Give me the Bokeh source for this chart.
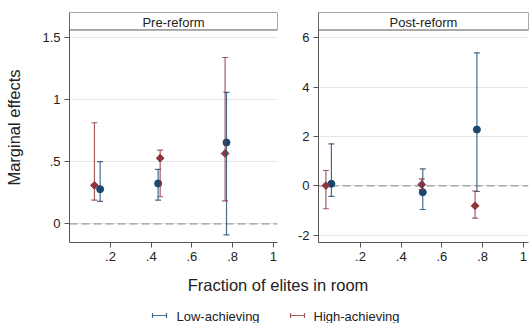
from bokeh.plotting import figure
from bokeh.layouts import column, row
from bokeh.models import (ColumnDataSource, Whisker, TeeHead, Range1d, FixedTicker,
                          CustomJSTickFormatter, Span, BoxAnnotation, Label)
from bokeh.core.properties import value
from bokeh.embed import file_html
from bokeh.resources import INLINE

FONT = "Liberation Sans"
BLUE = "#1a476f"
RED = "#90353b"
TXT = "#222222"
AX = "#555555"

# ---- data ----
panel_titles = ["Pre-reform", "Post-reform"]
x_title = "Fraction of elites in room"
y_title = "Marginal effects"
legend_labels = ["Low-achieving", "High-achieving"]

x_ticks = [0.2, 0.4, 0.6, 0.8, 1.0]
pre_y_ticks = [0, 0.5, 1, 1.5]
post_y_ticks = [-2, 0, 2, 4, 6]

pre_x_low = [0.149, 0.434, 0.770]
pre_low = [0.279, 0.325, 0.656]
pre_low_lo = [0.18, 0.19, -0.089]
pre_low_hi = [0.502, 0.438, 1.059]
pre_x_high = [0.121, 0.444, 0.763]
pre_high = [0.310, 0.529, 0.567]
pre_high_lo = [0.19, 0.218, 0.185]
pre_high_hi = [0.815, 0.594, 1.341]

post_x_low = [0.057, 0.506, 0.772]
post_low = [0.08, -0.26, 2.28]
post_low_lo = [-0.43, -0.96, -0.23]
post_low_hi = [1.70, 0.69, 5.39]
post_x_high = [0.030, 0.501, 0.763]
post_high = [0.01, 0.05, -0.81]
post_high_lo = [-0.93, -0.15, -1.31]
post_high_hi = [0.62, 0.28, -0.21]

fmt = CustomJSTickFormatter(code="""
    var s = String(Math.round(tick*100)/100);
    return s.replace(/^0\\./, '.').replace(/^-0\\./, '-.');
""")


def panel(title, xl, yl, lol, hil, xh, yh, loh, hih, xr, yr, header_bottom,
          yticks, width, mbl, mbr, ylabel):
    p = figure(width=width, height=268, x_range=Range1d(*xr), y_range=Range1d(*yr),
               output_backend="svg", toolbar_location=None,
               min_border_left=mbl, min_border_right=mbr, min_border_top=12,
               min_border_bottom=26)
    p.outline_line_color = None
    p.background_fill_color = "white"
    p.xgrid.visible = False
    p.ygrid.grid_line_color = "#e6e6e6"
    p.ygrid.grid_line_width = 1

    p.xaxis.ticker = FixedTicker(ticks=x_ticks)
    p.yaxis.ticker = FixedTicker(ticks=yticks)
    for ax in (p.xaxis, p.yaxis):
        ax.formatter = fmt
        ax.axis_line_color = AX
        ax.major_tick_line_color = AX
        ax.major_tick_out = 5
        ax.major_tick_in = 0
        ax.minor_tick_line_color = None
        ax.major_label_standoff = 4
        ax.major_label_text_font = FONT
        ax.major_label_text_font_size = "13px"
        ax.major_label_text_color = TXT
    if ylabel:
        p.yaxis.axis_label = ylabel
        p.yaxis.axis_label_text_font = FONT
        p.yaxis.axis_label_text_font_size = "16.5px"
        p.yaxis.axis_label_text_font_style = "normal"
        p.yaxis.axis_label_text_color = TXT
        p.yaxis.axis_label_standoff = 16

    p.add_layout(Span(location=0, dimension="width", line_color="#9a9a9a",
                      line_dash="8 4", line_width=1.2, level="underlay"))

    src_l = ColumnDataSource(dict(x=xl, y=yl, lo=lol, hi=hil))
    src_h = ColumnDataSource(dict(x=xh, y=yh, lo=loh, hi=hih))
    for src, col in ((src_l, BLUE), (src_h, RED)):
        w = Whisker(source=src, base="x", upper="hi", lower="lo", dimension="height",
                    line_color=col, line_width=1.2, line_alpha=0.8,
                    upper_head=TeeHead(size=6, line_color=col, line_width=1.2, line_alpha=0.8),
                    lower_head=TeeHead(size=6, line_color=col, line_width=1.2, line_alpha=0.8),
                    level="glyph")
        p.add_layout(w)
    p.scatter("x", "y", source=src_l, marker="circle", size=7,
              fill_color=BLUE, line_color=BLUE)
    p.scatter("x", "y", source=src_h, marker="square", angle=0.785398, size=5.5,
              fill_color=RED, line_color=RED)

    p.add_layout(BoxAnnotation(bottom=header_bottom, top=yr[1], fill_color="white",
                               fill_alpha=1, line_color=AX, line_width=1, line_alpha=1))
    p.add_layout(Label(x=(xr[0] + xr[1]) / 2, y=(header_bottom + yr[1]) / 2 - (yr[1] - yr[0]) * 0.004,
                       text=title, text_align="center", text_baseline="middle",
                       text_font=FONT, text_font_size="13px", text_color=TXT))
    return p


pL = panel(panel_titles[0], pre_x_low, pre_low, pre_low_lo, pre_low_hi,
           pre_x_high, pre_high, pre_high_lo, pre_high_hi,
           (-0.0015, 1.0206), (-0.151, 1.704), 1.563, pre_y_ticks,
           290, 69, 13, y_title)
pR = panel(panel_titles[1], post_x_low, post_low, post_low_lo, post_low_hi,
           post_x_high, post_high, post_high_lo, post_high_hi,
           (-0.0064, 1.0256), (-2.298, 7.025), 6.315, post_y_ticks,
           240, 28, 2, None)

# bottom strip: x-axis title and legend (page-pixel coordinates)
pB = figure(width=530, height=55, x_range=Range1d(0, 530), y_range=Range1d(323, 268),
            output_backend="svg", toolbar_location=None,
            x_axis_location=None, y_axis_location=None,
            min_border_left=0, min_border_right=0, min_border_top=0, min_border_bottom=0)
pB.outline_line_color = None
pB.grid.visible = False
pB.text(x=[277.5], y=[284], text=[x_title], text_align="center",
        text_baseline="alphabetic", text_font=value(FONT),
        text_font_size="16.5px", text_color=TXT)

icon_x = [152, 290]
label_x = [176, 313]
colors = [BLUE, RED]
icon_y = 315
pB.segment(x0=icon_x, y0=[icon_y] * 2, x1=[x + 14 for x in icon_x], y1=[icon_y] * 2,
           line_color=colors, line_width=1.2, line_alpha=0.8)
pB.segment(x0=icon_x + [x + 14 for x in icon_x], y0=[icon_y - 2.5] * 4,
           x1=icon_x + [x + 14 for x in icon_x], y1=[icon_y + 2.5] * 4,
           line_color=colors + colors, line_width=1.2, line_alpha=0.8)
pB.text(x=label_x, y=[316] * 2, text=legend_labels, text_align="left",
        text_baseline="alphabetic", text_font=value(FONT),
        text_font_size="13px", text_color=TXT)

layout = column(row(pL, pR), pB)
open("out.html", "w").write(file_html(layout, INLINE))
